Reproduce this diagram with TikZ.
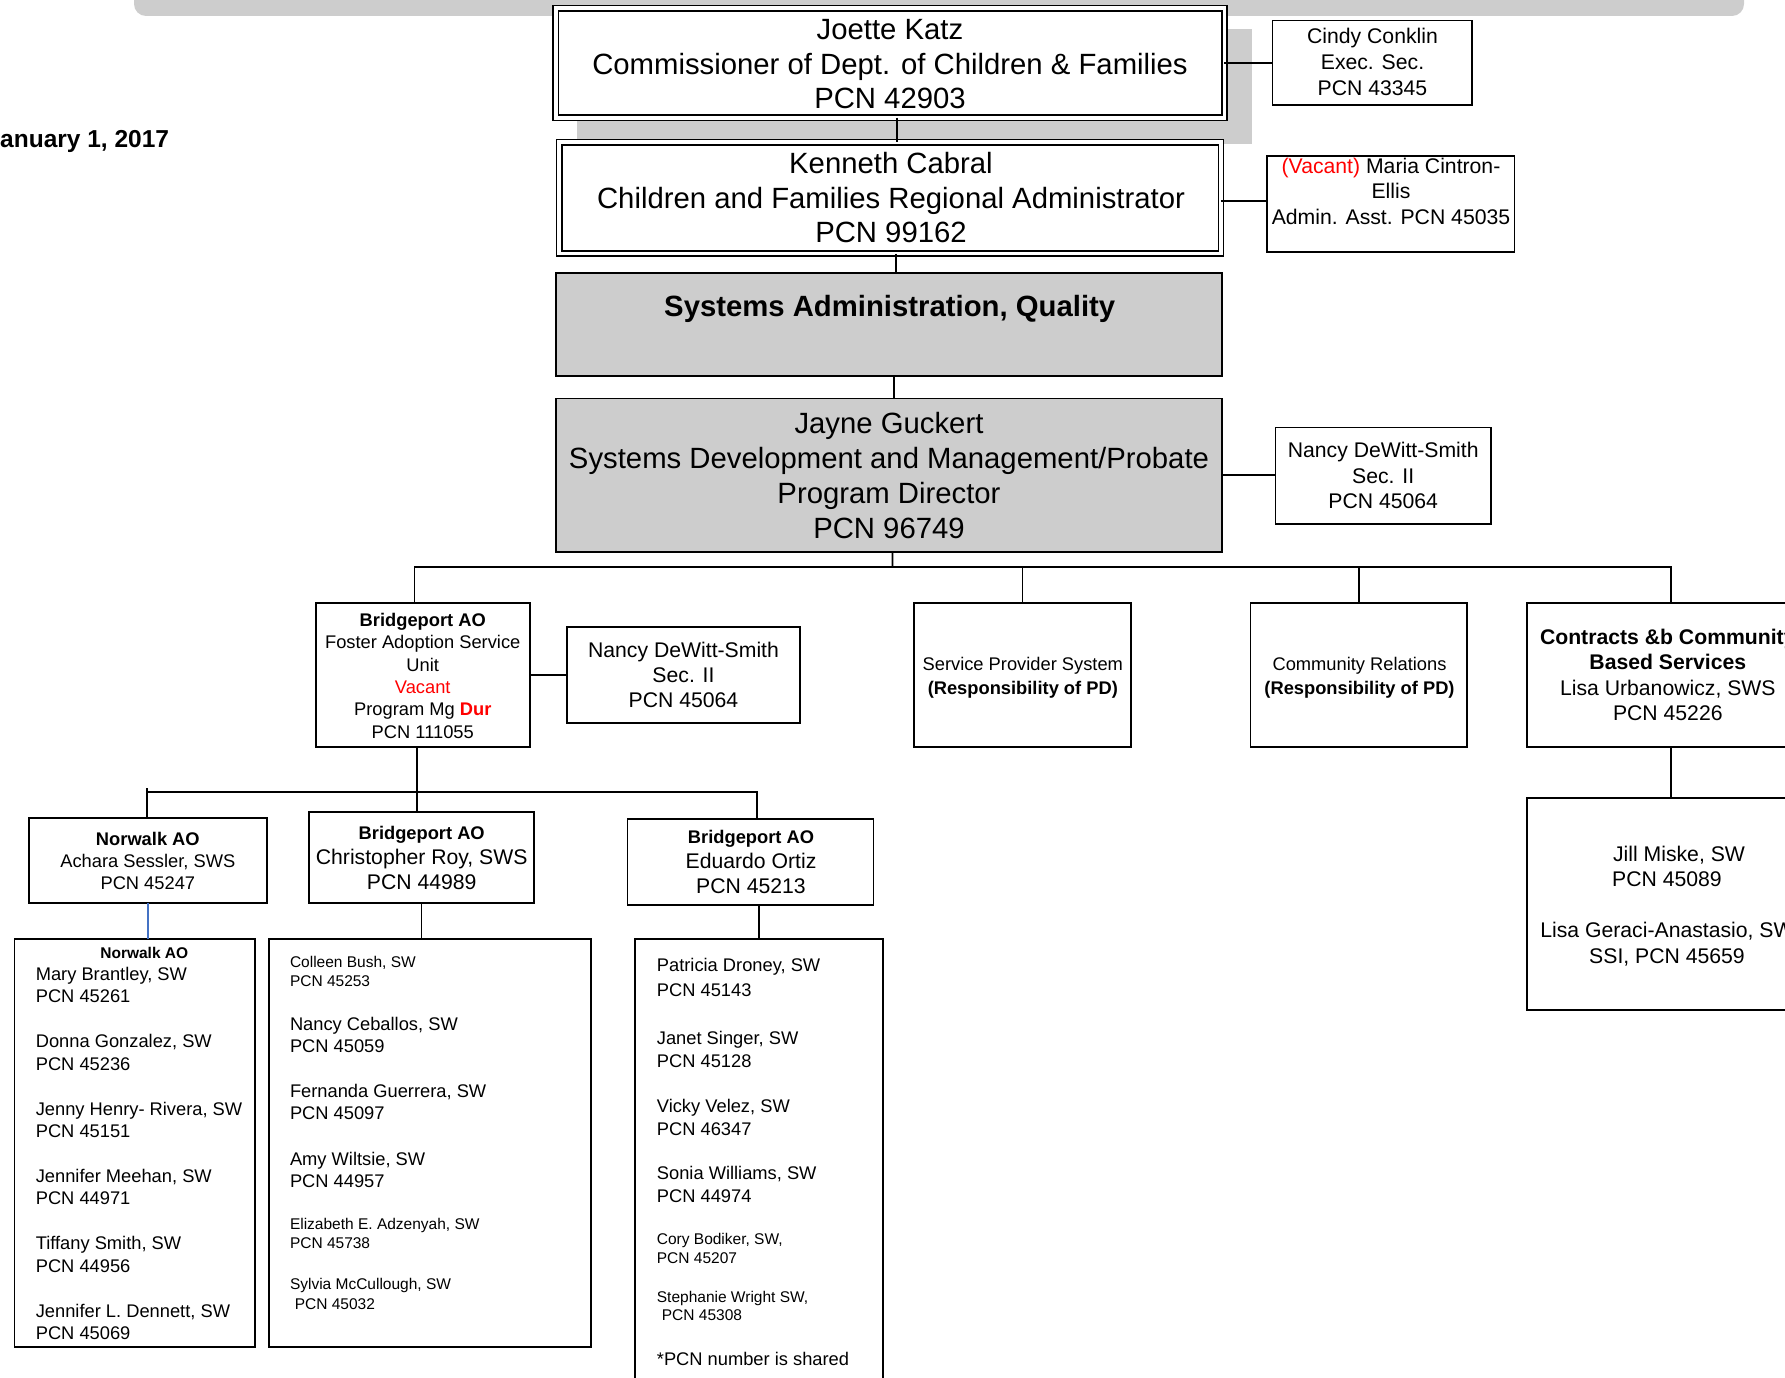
\documentclass[tikz,border=0pt]{standalone}
\usepackage{fontspec}
\setmainfont{Liberation Sans}
\definecolor{boxgray}{RGB}{205,205,205}
\definecolor{vred}{RGB}{255,0,0}
\definecolor{lineblue}{RGB}{68,114,196}
\newcommand\fBig{\fontsize{29.3}{34.5}\selectfont}
\newcommand\fBigJ{\fontsize{29.3}{35}\selectfont}
\newcommand\fMid{\fontsize{21.2}{25.7}\selectfont}
\newcommand\fSm{\fontsize{18.3}{22.4}\selectfont}
\newcommand\fTiny{\fontsize{15.5}{19}\selectfont}
\begin{document}
\begin{tikzpicture}[x=1pt,y=-1pt,
  box/.style={draw, line width=1.6pt, inner sep=0pt, outer sep=0pt, fill=white},
  dbox/.style={draw, line width=1.4pt, double, double distance=3.9pt, inner sep=0pt, outer sep=0pt, fill=white},
  gbox/.style={box, fill=boxgray},
  conn/.style={line width=1.6pt},
  txt/.style={inner sep=0pt, align=center, anchor=base},
  ltxt/.style={inner sep=0pt, align=left, anchor=base west},
]
% note: for multi-line nodes the base anchor lies on the last line's baseline
\useasboundingbox (0,0) rectangle (1785,1378);
\clip (0,0) rectangle (1785,1378);

% background gray shapes
\fill[boxgray, rounded corners=12pt] (134,-30) rectangle (1744,16);
\node[fill=boxgray, inner sep=0pt, outer sep=0pt, minimum width=675pt, minimum height=115pt] (shadow) at (914.5,86.5) {};

% boxes
\node[dbox, minimum width=668.75pt, minimum height=109.5pt] (joette) at (890.1,63) {};
\node[dbox, minimum width=661.75pt, minimum height=111.25pt] (ken) at (890.1,197.9) {};
\node[box, minimum width=199.5pt, minimum height=84.5pt] (cindy) at (1372.25,62.75) {};
\node[box, minimum width=247.5pt, minimum height=95.7pt] (maria) at (1390.75,203.85) {};
\node[gbox, minimum width=665.7pt, minimum height=103.3pt] (sys) at (888.85,324.35) {};
\node[gbox, minimum width=665.7pt, minimum height=153.6pt] (jayne) at (888.85,475.2) {};
\node[box, minimum width=215.7pt, minimum height=96.5pt] (nancyA) at (1383.15,475.75) {};
\node[box, minimum width=214.1pt, minimum height=144.3pt] (foster) at (422.75,674.85) {};
\node[box, minimum width=233pt, minimum height=96.3pt] (nancyB) at (683.5,674.85) {};
\node[box, minimum width=217pt, minimum height=144.3pt] (service) at (1022.5,674.85) {};
\node[box, minimum width=216.5pt, minimum height=144.3pt] (community) at (1358.75,674.85) {};
\node[box, minimum width=282.3pt, minimum height=144.3pt] (contracts) at (1667.85,674.85) {};
\node[box, minimum width=282.3pt, minimum height=212.3pt] (jill) at (1667.85,903.85) {};
\node[box, minimum width=238.3pt, minimum height=85pt] (norwalk) at (147.85,860.2) {};
\node[box, minimum width=225pt, minimum height=91pt] (roy) at (421.5,857.2) {};
\node[box, minimum width=246.2pt, minimum height=86.3pt] (ortiz) at (750.5,861.85) {};
\node[box, minimum width=240.4pt, minimum height=407.7pt] (nwList) at (134.8,1142.85) {};
\node[box, minimum width=322.1pt, minimum height=407.7pt] (royList) at (429.95,1142.85) {};
\node[box, minimum width=247.7pt, minimum height=481pt] (ortizList) at (758.85,1179.5) {};

% connectors
\draw[conn] ([xshift=7pt]joette.south) -- ([xshift=7pt]joette.south |- ken.north);
\draw[conn] (joette.east) -- (joette.east -| cindy.west);
\draw[conn] ([yshift=-3pt]ken.east) -- ([yshift=-3pt]ken.east -| maria.west);
\draw[conn] ([xshift=6pt]ken.south) -- ([xshift=6pt]ken.south |- sys.north);
\draw[conn] ([xshift=5pt]sys.south) -- ([xshift=5pt]sys.south |- jayne.north);
\draw[conn] (jayne.east) -- (jayne.east -| nancyA.west);
\coordinate (busL) at (414.4,566.7);
\coordinate (busM) at (892.45,566.7);
\coordinate (busR) at (1671,566.7);
\draw[conn] ([xshift=3.6pt]jayne.south) -- (busM);
\draw[conn] (busL |- foster.north) -- (busL) -- (busR) -- (busR |- contracts.north);
\draw[conn] (service.north |- busL) -- (service.north);
\draw[conn] (community.north |- busL) -- (community.north);
\draw[conn] (foster.east) -- (foster.east -| nancyB.west);
\coordinate (lbL) at (147,791.7);
\coordinate (lbM) at (416.75,791.7);
\coordinate (lbR) at (757,791.7);
\draw[conn] ([xshift=-6pt]foster.south) -- (lbM) -- (lbM |- roy.north);
\draw[conn] (lbL |- norwalk.north) -- ([yshift=4pt]lbL);
\draw[conn] (lbL) -- (lbR) -- (lbR |- ortiz.north);
\draw[line width=1.3pt, lineblue] (norwalk.south) -- (norwalk.south |- nwList.north);
\draw[conn] (roy.south) -- (roy.south |- royList.north);
\draw[conn] ([xshift=8.5pt]ortiz.south) -- ([xshift=8.5pt]ortiz.south |- ortizList.north);
\draw[conn] (busR |- contracts.south) -- (busR |- jill.north);

% texts (multi-line nodes placed at the baseline of their last line)
\node[inner sep=0pt, anchor=base west, font=\fontsize{24.5}{29}\selectfont\bfseries] (date) at (0,147) {anuary 1, 2017};
\node[txt, font=\fBig] (joetteT) at (890,108.6) {Joette Katz\\Commissioner of Dept. of Children \& Families\\PCN 42903};
\node[txt, font=\fBig] (kenT) at (891,242.6) {Kenneth Cabral\\Children and Families Regional Administrator\\PCN 99162};
\node[txt, font=\fBig\bfseries] (sysT) at (889.7,316) {Systems Administration, Quality};
\node[txt, font=\fBigJ] (jayneT) at (889,538.6) {Jayne Guckert\\Systems Development and Management/Probate\\Program Director\\PCN 96749};
\node[txt, font=\fMid] (cindyT) at (1372.5,95.4) {Cindy Conklin\\Exec. Sec.\\PCN 43345};
\node[txt, font=\fMid] (mariaT) at (1391,224.4) {\textcolor{vred}{(Vacant)} Maria Cintron-\\Ellis\\Admin. Asst. PCN 45035};
\node[txt, font=\fMid] (nancyAT) at (1383.2,508.8) {Nancy DeWitt-Smith\\Sec. II\\PCN 45064};
\node[txt, font=\fSm] (fosterT) at (422.75,738.3) {\textbf{Bridgeport AO}\\Foster Adoption Service\\Unit\\\textcolor{vred}{Vacant}\\Program Mg \textcolor{vred}{\textbf{Dur}}\\PCN 111055};
\node[txt, font=\fontsize{21.2}{25}\selectfont] (nancyBT) at (683.5,707.4) {Nancy DeWitt-Smith\\Sec. II\\PCN 45064};
\node[txt, font=\fontsize{18.3}{23.7}\selectfont] (serviceT) at (1022.8,694) {Service Provider System\\\textbf{(Responsibility of PD)}};
\node[txt, font=\fontsize{18.3}{23.7}\selectfont] (communityT) at (1359.5,694) {Community Relations\\\textbf{(Responsibility of PD)}};
\node[txt, font=\fontsize{21.2}{25.5}\selectfont] (contractsT) at (1667.8,720.5) {\textbf{Contracts \&b Community}\\\textbf{Based Services}\\Lisa Urbanowicz, SWS\\PCN 45226};
\node[txt, font=\fontsize{21.2}{25.5}\selectfont] (jillT) at (1667,963.4) {\hspace*{24pt}Jill Miske, SW\\PCN 45089\\[25.5pt]Lisa Geraci-Anastasio, SW\\SSI, PCN 45659};
\node[txt, font=\fSm] (norwalkT) at (147.85,889.8) {\textbf{Norwalk AO}\\Achara Sessler, SWS\\PCN 45247};
\node[txt, font=\fontsize{21.2}{25}\selectfont] (royT) at (421.7,889) {{\fSm\bfseries Bridgeport AO}\\Christopher Roy, SWS\\PCN 44989};
\node[txt, font=\fontsize{21.2}{25}\selectfont] (ortizT) at (751,893) {{\fSm\bfseries Bridgeport AO}\\Eduardo Ortiz\\PCN 45213};

% Norwalk list
\node[txt, font=\fTiny\bfseries] (nwHead) at (144.3,958.7) {Norwalk AO};
\node[ltxt, font=\fontsize{18.3}{22.45}\selectfont] (nwNames) at (35.6,1339.5) {Mary Brantley, SW\\PCN 45261\\[22.45pt]Donna Gonzalez, SW\\PCN 45236\\[22.45pt]Jenny Henry- Rivera, SW\\PCN 45151\\[22.45pt]Jennifer Meehan, SW\\PCN 44971\\[22.45pt]Tiffany Smith, SW\\PCN 44956\\[22.45pt]Jennifer L. Dennett, SW\\PCN 45069};

% Roy list
\node[ltxt, font=\fontsize{15.5}{19}\selectfont] (r1) at (289.8,986) {Colleen Bush, SW\\PCN 45253};
\node[ltxt, font=\fontsize{18.3}{22}\selectfont] (r2) at (289.8,1052.3) {Nancy Ceballos, SW\\PCN 45059};
\node[ltxt, font=\fontsize{18.3}{22.3}\selectfont] (r3) at (289.8,1119.6) {Fernanda Guerrera, SW\\PCN 45097};
\node[ltxt, font=\fontsize{18.3}{22}\selectfont] (r4) at (289.8,1187) {Amy Wiltsie, SW\\PCN 44957};
\node[ltxt, font=\fontsize{15.5}{19.3}\selectfont] (r5) at (289.8,1248.7) {Elizabeth E. Adzenyah, SW\\PCN 45738};
\node[ltxt, font=\fontsize{15.5}{20}\selectfont] (r6) at (289.8,1309.7) {Sylvia McCullough, SW\\\hspace*{4.8pt}PCN 45032};

% Ortiz list
\node[ltxt, font=\fontsize{18.3}{25}\selectfont] (o1) at (656.7,996.3) {Patricia Droney, SW\\PCN 45143};
\node[ltxt, font=\fontsize{18.3}{22.7}\selectfont] (o2) at (656.7,1067.3) {Janet Singer, SW\\PCN 45128};
\node[ltxt, font=\fontsize{18.3}{23.3}\selectfont] (o3) at (656.7,1135.3) {Vicky Velez, SW\\PCN 46347};
\node[ltxt, font=\fontsize{18.3}{23}\selectfont] (o4) at (656.7,1202) {Sonia Williams, SW\\PCN 44974};
\node[ltxt, font=\fontsize{15.5}{19.3}\selectfont] (o5) at (656.7,1263.7) {Cory Bodiker, SW,\\PCN 45207};
\node[ltxt, font=\fontsize{15.5}{18.3}\selectfont] (o6) at (656.7,1320.3) {Stephanie Wright SW,\\\hspace*{5pt}PCN 45308};
\node[ltxt, font=\fontsize{18.3}{22}\selectfont] (o7) at (656.7,1365.3) {*PCN number is shared};
\end{tikzpicture}
\end{document}
